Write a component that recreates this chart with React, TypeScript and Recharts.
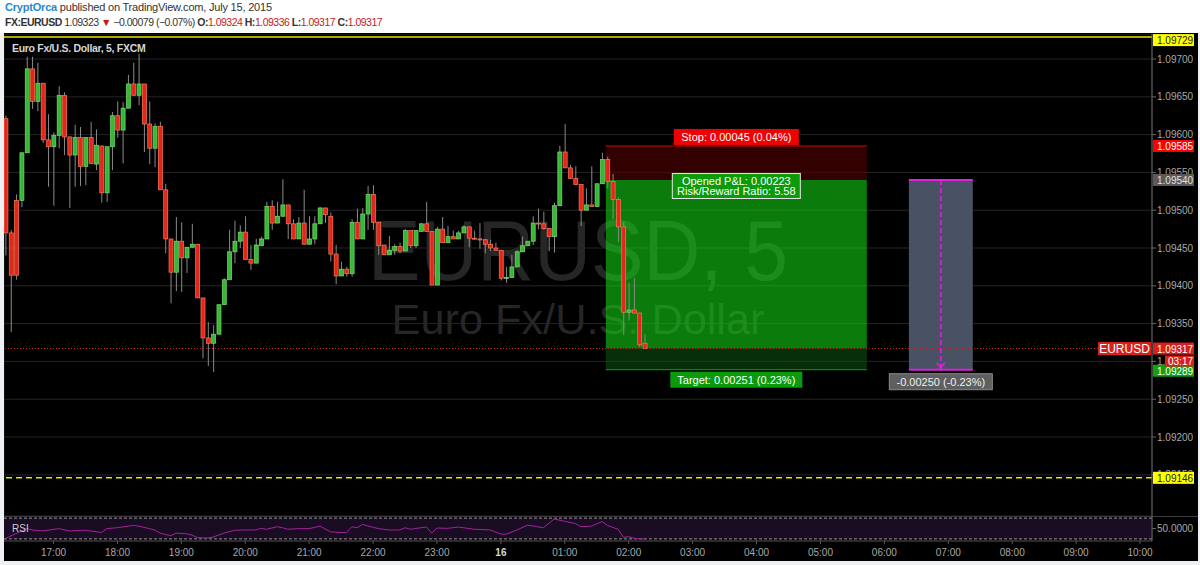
import React from "react";
import {
  ComposedChart,
  Bar,
  Line,
  XAxis,
  YAxis,
  CartesianGrid,
  ReferenceLine,
  ReferenceArea,
  ReferenceDot,
} from "recharts";

// 5 minute bars, bar index 0 = 17:00, first bar = 16:15
const FIRST_BAR = -9;

const opens = [
  1.09621, 1.0947, 1.09513, 1.09513, 1.09576, 1.09687, 1.09644, 1.09668, 1.09593, 1.09584,
  1.09599, 1.09652, 1.09597, 1.09573, 1.09596, 1.09558, 1.09596, 1.09561, 1.09585, 1.09523,
  1.09584, 1.09625, 1.09606, 1.09635, 1.09667, 1.09652, 1.09667, 1.09614, 1.09582, 1.09611,
  1.09527, 1.09462, 1.09418, 1.09459, 1.09437, 1.09451, 1.09455, 1.09384, 1.09331, 1.09324,
  1.09336, 1.09375, 1.09408, 1.09445, 1.09459, 1.09471, 1.09435, 1.0943, 1.09453, 1.09462,
  1.09505, 1.09483, 1.09492, 1.09507, 1.09482, 1.09462, 1.09483, 1.09455, 1.09462, 1.09482,
  1.09503, 1.09492, 1.09442, 1.09413, 1.09422, 1.09416, 1.09484, 1.09462, 1.09495, 1.09521,
  1.09484, 1.09454, 1.09441, 1.09447, 1.09452, 1.09446, 1.09473, 1.09453, 1.09472, 1.09482,
  1.09472, 1.09401, 1.09475, 1.09457, 1.09465, 1.09462, 1.0947, 1.09478, 1.09463, 1.09462,
  1.09461, 1.09455, 1.0945, 1.09447, 1.0941, 1.09411, 1.09425, 1.09445, 1.09453, 1.09459,
  1.09483, 1.09482, 1.09476, 1.09465, 1.09506, 1.09577, 1.09556, 1.09542, 1.09534, 1.095,
  1.09507, 1.09505, 1.09535, 1.09567, 1.09538, 1.09514, 1.09478, 1.09365, 1.09368, 1.09364,
  1.09324,
];
const highs = [
  1.09625, 1.09474, 1.09521, 1.09576, 1.09703, 1.09703, 1.09695, 1.09668, 1.09627, 1.09603,
  1.09664, 1.09656, 1.09597, 1.09613, 1.0961, 1.09596, 1.09617, 1.09607, 1.09585, 1.09584,
  1.0963, 1.09644, 1.09643, 1.09679, 1.09695, 1.09707, 1.09667, 1.09644, 1.09615, 1.09617,
  1.09535, 1.09462, 1.09491, 1.09484, 1.09451, 1.09482, 1.09455, 1.09384, 1.09352, 1.09348,
  1.09375, 1.0941, 1.09474, 1.09486, 1.0948, 1.09492, 1.09454, 1.09462, 1.09465, 1.09511,
  1.09513, 1.09511, 1.09541, 1.09507, 1.09488, 1.09491, 1.09527, 1.09492, 1.09492, 1.09504,
  1.09503, 1.09497, 1.09454, 1.09432, 1.09425, 1.09488, 1.09502, 1.09503, 1.09532, 1.09533,
  1.09484, 1.09454, 1.09466, 1.09455, 1.09457, 1.09475, 1.09473, 1.09473, 1.09483, 1.09511,
  1.09472, 1.09478, 1.09491, 1.09479, 1.09473, 1.09473, 1.0948, 1.09478, 1.09473, 1.09483,
  1.09461, 1.09461, 1.09457, 1.09447, 1.09425, 1.09441, 1.09447, 1.09465, 1.09459, 1.09492,
  1.09502, 1.09498, 1.09476, 1.0951, 1.09585, 1.09614, 1.0956, 1.09558, 1.09534, 1.09529,
  1.09558, 1.09535, 1.09576, 1.09571, 1.09548, 1.09517, 1.09485, 1.09404, 1.0941, 1.09364,
  1.09336,
];
const lows = [
  1.0944, 1.09339, 1.09408, 1.09504, 1.09576, 1.09634, 1.09631, 1.09589, 1.09531, 1.09506,
  1.09582, 1.09573, 1.09503, 1.09531, 1.09532, 1.09533, 1.09561, 1.09553, 1.0951, 1.09511,
  1.09553, 1.09596, 1.09562, 1.09635, 1.09652, 1.09639, 1.09577, 1.09561, 1.09557, 1.09527,
  1.09443, 1.09377, 1.09393, 1.09392, 1.09417, 1.09451, 1.09384, 1.09304, 1.09294, 1.09286,
  1.09336, 1.09375, 1.09408, 1.0943, 1.0945, 1.09435, 1.09421, 1.0943, 1.09453, 1.09462,
  1.09474, 1.09483, 1.09492, 1.09462, 1.09462, 1.09462, 1.09455, 1.09455, 1.09455, 1.09482,
  1.09483, 1.09432, 1.09402, 1.09413, 1.09412, 1.09412, 1.09462, 1.09462, 1.09474, 1.09474,
  1.09441, 1.09441, 1.09441, 1.09441, 1.09443, 1.09446, 1.0945, 1.0945, 1.09472, 1.09472,
  1.09401, 1.09401, 1.09457, 1.09457, 1.09462, 1.09462, 1.0947, 1.09451, 1.09461, 1.09449,
  1.09443, 1.09446, 1.09447, 1.09407, 1.09404, 1.09411, 1.09425, 1.09445, 1.09453, 1.09454,
  1.09475, 1.09474, 1.09446, 1.09444, 1.09506, 1.09556, 1.09542, 1.09534, 1.09479, 1.095,
  1.09505, 1.09505, 1.09535, 1.09529, 1.09488, 1.09458, 1.09335, 1.09354, 1.09364, 1.09319,
  1.09317,
];
const closes = [
  1.0947, 1.09414, 1.09414, 1.09576, 1.09687, 1.09644, 1.09668, 1.09593, 1.09584, 1.09599,
  1.09652, 1.09597, 1.09573, 1.09596, 1.09558, 1.09596, 1.09562, 1.09586, 1.09523, 1.09584,
  1.09625, 1.09606, 1.09635, 1.09667, 1.09652, 1.09667, 1.09614, 1.09582, 1.09611, 1.09527,
  1.09462, 1.09418, 1.09459, 1.09437, 1.09451, 1.09455, 1.09384, 1.09331, 1.09324, 1.09336,
  1.09375, 1.09408, 1.09445, 1.09459, 1.09471, 1.09435, 1.0943, 1.09454, 1.09462, 1.09505,
  1.09483, 1.09492, 1.09507, 1.09482, 1.09462, 1.09483, 1.09455, 1.09462, 1.09482, 1.09503,
  1.09494, 1.09442, 1.09413, 1.09422, 1.09416, 1.09484, 1.09462, 1.09495, 1.09521, 1.09484,
  1.09453, 1.09441, 1.09447, 1.09452, 1.09446, 1.09473, 1.09453, 1.09473, 1.09482, 1.09472,
  1.09401, 1.09475, 1.09457, 1.09465, 1.09462, 1.0947, 1.09478, 1.09463, 1.09462, 1.09461,
  1.09455, 1.0945, 1.09447, 1.0941, 1.09411, 1.09425, 1.09445, 1.09453, 1.09459, 1.09483,
  1.09482, 1.09476, 1.09465, 1.09506, 1.09577, 1.09556, 1.09542, 1.09534, 1.095, 1.09507,
  1.09505, 1.09535, 1.09567, 1.09538, 1.09514, 1.09478, 1.09365, 1.09368, 1.09364, 1.09322,
  1.09317,
];

// RSI (bar index, value)
const rsiBars = [
  -9, -5, -4, -2, 1, 3, 6, 9, 10, 12, 14, 15, 16, 18, 19, 20, 22, 23, 25, 26, 27, 29, 30, 32,
  34, 36, 38, 39, 40, 42, 43, 44, 46, 48, 50, 52, 54, 55, 56, 57, 58, 61, 63, 65, 66, 67, 69,
  70, 71, 72, 74, 76, 79, 82, 84, 85, 87, 89, 92, 94, 96, 98, 99, 101, 103, 104, 106, 107, 108,
  109, 111,
];
const rsiValues = [
  31, 49.7, 47.2, 45.4, 49.7, 45.4, 46.6, 42.3, 49.7, 51.5, 54.6, 55.8, 54.6, 49.7, 47.2, 41.1,
  36.2, 41.1, 39.8, 37.4, 32.5, 31.8, 33.7, 41.1, 46.6, 47.2, 47.2, 50.3, 48.5, 53.4, 51.5, 48.5,
  49.7, 49.7, 54.6, 43.5, 42.3, 42.3, 53.4, 51.5, 57.7, 49.7, 47.2, 47.2, 51.5, 48.5, 51.5, 52.8,
  41.1, 50.9, 50.3, 52.8, 48.5, 47.2, 39.2, 39.2, 47.2, 56.5, 51.5, 68.2, 63.8, 59.5, 53.4, 54.6,
  63.2, 55.8, 48.5, 33.1, 34.3, 31.2, 29.5,
];

const hourTicks = [0, 12, 24, 36, 48, 60, 72, 84, 96, 108, 120, 132, 144, 156, 168, 180, 192, 204];
const hourLabels = [
  "17:00", "18:00", "19:00", "20:00", "21:00", "22:00", "23:00", "16", "01:00", "02:00",
  "03:00", "04:00", "05:00", "06:00", "07:00", "08:00", "09:00", "10:00",
];
const priceTicks = [
  1.091, 1.0915, 1.092, 1.0925, 1.093, 1.0935, 1.094, 1.0945, 1.095, 1.0955, 1.096, 1.0965, 1.097,
];

// drawings
const RESIST = 1.09729;
const SUPPORT = 1.09146;
const LAST = 1.09317;
const ENTRY = 1.0954;
const STOP = 1.09585;
const TARGET = 1.09289;
const POS_FROM = 103.7;
const POS_TO = 152.7;
const PROJ_FROM = 160.6;
const PROJ_TO = 172.6;

const X_MIN = -9.3;
const X_MAX = 206.25;
const Y_MIN = 1.090955;
const Y_MAX = 1.097331;

const bars = opens.map((o, k) => ({
  t: FIRST_BAR + k,
  open: o,
  high: highs[k],
  low: lows[k],
  close: closes[k],
  range: [lows[k], highs[k]],
}));
const rsiData = rsiBars.map((t, k) => ({ t, rsi: rsiValues[k] }));

const FONT = "'Liberation Sans', Arial, sans-serif";

function Candle(props: any) {
  const { x, y, width, height, payload } = props;
  const top = Math.min(y, y + height);
  const h = Math.abs(height);
  const span = payload.high - payload.low || 1e-9;
  const py = (v: number) => top + ((payload.high - v) / span) * h;
  const up = payload.close >= payload.open;
  const yo = py(payload.open);
  const yc = py(payload.close);
  const cx = x + width / 2;
  return (
    <g>
      <line x1={cx} x2={cx} y1={top} y2={top + h} stroke="#8a8a8a" strokeWidth={1} />
      <rect
        x={x}
        y={Math.min(yo, yc)}
        width={width}
        height={Math.max(1, Math.abs(yo - yc))}
        fill={up ? "#38b638" : "#e3261c"}
        stroke={up ? "#78dd6c" : "#ff7a52"}
        strokeWidth={0.7}
      />
    </g>
  );
}

function PriceTag({ viewBox, text, bg, color, dy = 0, extra }: any) {
  const x = viewBox.x + viewBox.width + 1;
  const y = viewBox.y + dy;
  return (
    <g fontFamily={FONT}>
      <rect x={x} y={y - 6} width={41} height={12} fill={bg} />
      <text x={x + 4} y={y + 4} fontSize={10} fill={color}>
        {text}
      </text>
      {extra}
    </g>
  );
}

function BoxLabel({ cx, cy, w, h, lines, bg, border, color }: any) {
  return (
    <g fontFamily={FONT}>
      <rect x={cx - w / 2} y={cy - h / 2} width={w} height={h} fill={bg} stroke={border || "none"} />
      {lines.map((s: string, k: number) => (
        <text
          key={k}
          x={cx}
          y={cy + 4 + (k - (lines.length - 1) / 2) * 10}
          textAnchor="middle"
          fontSize={11}
          fill={color}
        >
          {s}
        </text>
      ))}
    </g>
  );
}

function TimeTick(props: any) {
  const { x, y, payload } = props;
  const label = hourLabels[hourTicks.indexOf(payload.value)];
  const bold = label === "16";
  return (
    <text
      x={x}
      y={y + 10}
      textAnchor="middle"
      fontSize={10}
      fontFamily={FONT}
      fontWeight={bold ? 700 : 400}
      fill={bold ? "#d8d8d8" : "#a8a8a8"}
    >
      {label}
    </text>
  );
}

const priceTick = { fill: "#a8a8a8", fontSize: 10, fontFamily: FONT };
const noMargin = { top: 0, right: 0, bottom: 0, left: 0 };

export default function App() {
  return (
    <div
      style={{
        position: "absolute",
        left: 0,
        top: 0,
        width: 1200,
        height: 565,
        background: "#eef0f4",
        overflow: "hidden",
        fontFamily: FONT,
      }}
    >
      <div style={{ position: "absolute", left: 0, top: 0, width: 1200, height: 33, background: "#fff" }} />
      <div
        style={{ position: "absolute", left: 5, top: 1, fontSize: 11, letterSpacing: -0.2, color: "#333", whiteSpace: "nowrap" }}
      >
        <span style={{ color: "#2a87d0", fontWeight: 700 }}>CryptOrca</span> published on TradingView.com, July
        15, 2015
      </div>
      <div
        style={{ position: "absolute", left: 5, top: 16, fontSize: 10.5, letterSpacing: -0.5, color: "#333", whiteSpace: "nowrap" }}
      >
        <b>FX:EURUSD</b> 1.09323 <span style={{ color: "#c41a1a" }}>▼</span> −0.00079 (−0.07%){" "}
        <b>O:</b>
        <span style={{ color: "#c41a1a" }}>1.09324</span> <b>H:</b>
        <span style={{ color: "#c41a1a" }}>1.09336</span> <b>L:</b>
        <span style={{ color: "#c41a1a" }}>1.09317</span> <b>C:</b>
        <span style={{ color: "#c41a1a" }}>1.09317</span>
      </div>

      <div style={{ position: "absolute", left: 4, top: 33, width: 1194, height: 528, background: "#000" }} />

      <svg style={{ position: "absolute", left: 4, top: 34 }} width={1148} height={482}>
        <text
          x={574}
          y={246}
          textAnchor="middle"
          fontSize={86}
          fontFamily={FONT}
          fill="#262626"
          textLength={420}
          lengthAdjust="spacingAndGlyphs"
        >
          EURUSD, 5
        </text>
        <text
          x={574}
          y={300}
          textAnchor="middle"
          fontSize={43}
          fontFamily={FONT}
          fill="#262626"
          textLength={373}
          lengthAdjust="spacingAndGlyphs"
        >
          Euro Fx/U.S. Dollar
        </text>
      </svg>

      {/* price pane */}
      <div style={{ position: "absolute", left: 4, top: 34 }}>
        <ComposedChart width={1192} height={482} data={bars} margin={noMargin}>
          <CartesianGrid stroke="#252525" />
          <XAxis
            dataKey="t"
            type="number"
            domain={[X_MIN, X_MAX]}
            ticks={hourTicks}
            allowDataOverflow
            height={0}
            tick={false}
            axisLine={false}
            tickLine={false}
          />
          <YAxis
            orientation="right"
            domain={[Y_MIN, Y_MAX]}
            ticks={priceTicks}
            allowDataOverflow
            width={44}
            tickFormatter={(v: number) => v.toFixed(5)}
            tick={priceTick}
            axisLine={{ stroke: "#666" }}
            tickLine={{ stroke: "#666" }}
            tickSize={4}
            tickMargin={1}
          />

          <ReferenceArea x1={POS_FROM} x2={POS_TO} y1={ENTRY} y2={STOP} fill="#5c0000" fillOpacity={0.55} stroke="none"
            label={(p: any) => (
              <BoxLabel cx={p.viewBox.x + p.viewBox.width / 2} cy={p.viewBox.y - 9} w={125} h={16}
                lines={["Stop: 0.00045 (0.04%)"]} bg="#f00000" color="#fff" />
            )}
          />
          <ReferenceArea x1={POS_FROM} x2={POS_TO} y1={LAST} y2={ENTRY} fill="#14e014" fillOpacity={0.55} stroke="none" />
          <ReferenceArea x1={POS_FROM} x2={POS_TO} y1={TARGET} y2={LAST} fill="#0f580f" fillOpacity={0.55} stroke="none"
            label={(p: any) => (
              <BoxLabel cx={p.viewBox.x + p.viewBox.width / 2} cy={p.viewBox.y + p.viewBox.height + 10} w={132} h={16}
                lines={["Target: 0.00251 (0.23%)"]} bg="#0a9a0a" color="#fff" />
            )}
          />
          <ReferenceLine segment={[{ x: POS_FROM, y: STOP }, { x: POS_TO, y: STOP }]} stroke="#d00000" />
          <ReferenceLine segment={[{ x: POS_FROM, y: TARGET }, { x: POS_TO, y: TARGET }]} stroke="#109a10" />

          <ReferenceArea x1={PROJ_FROM} x2={PROJ_TO} y1={TARGET} y2={ENTRY} fill="#4a5567" fillOpacity={0.97} stroke="none"
            label={(p: any) => (
              <BoxLabel cx={p.viewBox.x + p.viewBox.width / 2} cy={p.viewBox.y + p.viewBox.height + 12} w={103} h={16}
                lines={["-0.00250 (-0.23%)"]} bg="#5f5f5f" border="#8a8a8a" color="#f0f0f0" />
            )}
          />
          <ReferenceLine segment={[{ x: PROJ_FROM, y: ENTRY }, { x: PROJ_TO, y: ENTRY }]} stroke="#e020e0" strokeWidth={2} />
          <ReferenceLine segment={[{ x: PROJ_FROM, y: TARGET }, { x: PROJ_TO, y: TARGET }]} stroke="#e020e0" strokeWidth={2} />
          <ReferenceLine
            segment={[{ x: (PROJ_FROM + PROJ_TO) / 2, y: ENTRY }, { x: (PROJ_FROM + PROJ_TO) / 2, y: TARGET }]}
            stroke="#e020e0"
            strokeWidth={1.5}
            strokeDasharray="5 3"
          />
          <ReferenceDot
            x={(PROJ_FROM + PROJ_TO) / 2}
            y={TARGET}
            r={0}
            shape={(p: any) => (
              <polyline points={`${p.cx - 4},${p.cy - 7} ${p.cx},${p.cy - 2} ${p.cx + 4},${p.cy - 7}`}
                fill="none" stroke="#e020e0" strokeWidth={1.5} />
            )}
          />

          <Bar dataKey="range" barSize={4} isAnimationActive={false} shape={(p: any) => <Candle {...p} />} />

          <ReferenceArea x1={POS_FROM} x2={POS_TO} y1={ENTRY} y2={ENTRY} stroke="none" fill="none"
            label={(p: any) => (
              <BoxLabel cx={p.viewBox.x + p.viewBox.width / 2} cy={p.viewBox.y + 6} w={128} h={25}
                lines={["Opened P&L: 0.00223", "Risk/Reward Ratio: 5.58"]} bg="#0a9a0a" border="#e8e8e8" color="#fff" />
            )}
          />

          <ReferenceLine y={RESIST} stroke="#e6e600" strokeWidth={1.5} />
          <ReferenceLine y={SUPPORT} stroke="#e6e600" strokeWidth={1.5} strokeDasharray="6 4" />
          <ReferenceLine y={LAST} stroke="#d81c1c" strokeDasharray="1 2" />
        </ComposedChart>
      </div>

      {/* price tags, drawn above the axis labels */}
      <div style={{ position: "absolute", left: 4, top: 34 }}>
        <ComposedChart width={1192} height={482} data={bars} margin={noMargin}>
          <XAxis dataKey="t" type="number" domain={[X_MIN, X_MAX]} allowDataOverflow height={0} tick={false}
            axisLine={false} tickLine={false} />
          <YAxis orientation="right" domain={[Y_MIN, Y_MAX]} allowDataOverflow width={44} tick={false}
            axisLine={false} tickLine={false} />
          <ReferenceLine y={RESIST} stroke="none" ifOverflow="visible"
            label={(p: any) => <PriceTag viewBox={p.viewBox} dy={3} text="1.09729" bg="#ffff00" color="#222" />} />
          <ReferenceLine y={SUPPORT} stroke="none"
            label={(p: any) => <PriceTag viewBox={p.viewBox} text="1.09146" bg="#ffff00" color="#222" />} />
          <ReferenceLine y={STOP} stroke="none"
            label={(p: any) => <PriceTag viewBox={p.viewBox} text="1.09585" bg="#ff0000" color="#fff" />} />
          <ReferenceLine y={ENTRY} stroke="none"
            label={(p: any) => <PriceTag viewBox={p.viewBox} text="1.09540" bg="#5a5a5a" color="#e0e0e0" />} />
          <ReferenceLine y={TARGET} stroke="none"
            label={(p: any) => <PriceTag viewBox={p.viewBox} dy={1} text="1.09289" bg="#12a012" color="#fff" />} />
          <ReferenceLine y={LAST} stroke="none"
            label={(p: any) => (
              <PriceTag viewBox={p.viewBox} text="1.09317" bg="#d8201c" color="#fff"
                extra={
                  <g>
                    <rect x={p.viewBox.x + p.viewBox.width - 54} y={p.viewBox.y - 6.5} width={53} height={13} fill="#d8201c" />
                    <text x={p.viewBox.x + p.viewBox.width - 27.5} y={p.viewBox.y + 4.5} textAnchor="middle" fontSize={12} fill="#fff">
                      EURUSD
                    </text>
                    <rect x={p.viewBox.x + p.viewBox.width + 13} y={p.viewBox.y + 7} width={29} height={11} fill="#d8201c" />
                    <text x={p.viewBox.x + p.viewBox.width + 16} y={p.viewBox.y + 16} fontSize={10} fill="#fff">
                      03:17
                    </text>
                  </g>
                }
              />
            )}
          />
        </ComposedChart>
      </div>

      {/* RSI pane and time axis */}
      <div style={{ position: "absolute", left: 4, top: 516, width: 1194, height: 1, background: "#3c3c3c" }} />
      <div style={{ position: "absolute", left: 4, top: 516 }}>
        <ComposedChart width={1192} height={45} data={rsiData} margin={noMargin}>
          <ReferenceArea y1={30} y2={70} fill="#1a0c22" fillOpacity={1} stroke="none" />
          <CartesianGrid stroke="#262626" horizontal={false} />
          <ReferenceLine y={70} stroke="#9a9a9a" strokeDasharray="3 2" />
          <ReferenceLine y={30} stroke="#9a9a9a" strokeDasharray="3 2" />
          <XAxis
            dataKey="t"
            type="number"
            domain={[X_MIN, X_MAX]}
            ticks={hourTicks}
            allowDataOverflow
            interval={0}
            height={20}
            tick={<TimeTick />}
            axisLine={{ stroke: "#555" }}
            tickLine={{ stroke: "#555" }}
            tickSize={3}
          />
          <YAxis
            orientation="right"
            domain={[26, 74]}
            ticks={[50]}
            allowDataOverflow
            width={44}
            tickFormatter={() => "50.0000"}
            tick={priceTick}
            axisLine={{ stroke: "#666" }}
            tickLine={{ stroke: "#666" }}
            tickSize={4}
            tickMargin={1}
          />
          <Line dataKey="rsi" stroke="#a3229f" strokeWidth={1} dot={false} isAnimationActive={false} />
        </ComposedChart>
      </div>

      <div
        style={{ position: "absolute", left: 12, top: 42, fontSize: 10.5, letterSpacing: -0.3, fontWeight: 700, color: "#d6d6d6" }}
      >
        Euro Fx/U.S. Dollar, 5, FXCM
      </div>
      <div style={{ position: "absolute", left: 12, top: 523, fontSize: 10, color: "#cfcfcf" }}>RSI</div>
    </div>
  );
}
